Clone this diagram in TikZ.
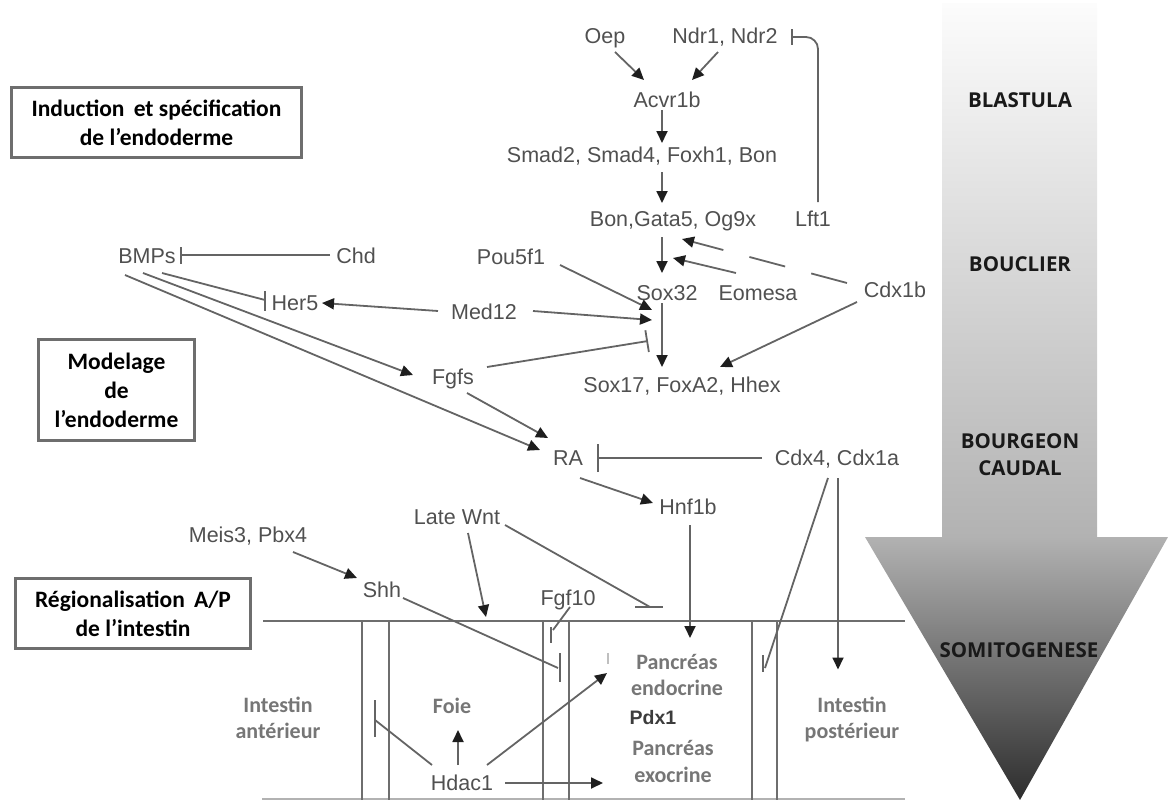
\documentclass[tikz,border=0pt]{standalone}
\usepackage{fontspec}
\setmainfont{Liberation Sans}
\newfontfamily\cbfont{Carlito}
\newfontfamily\osfont{Open Sans}
\usetikzlibrary{arrows.meta,calc}
\definecolor{genec}{RGB}{80,80,80}
\definecolor{linec}{RGB}{100,100,100}
\definecolor{tipc}{RGB}{30,30,30}
\definecolor{tisc}{RGB}{118,118,118}
\definecolor{boxc}{RGB}{110,110,110}
\definecolor{pdxc}{RGB}{60,60,60}
\definecolor{shafttop}{RGB}{252,252,252}
\definecolor{shaftbot}{RGB}{178,178,178}
\definecolor{headbot}{RGB}{45,45,45}
\definecolor{wallc}{RGB}{110,110,110}
\tikzset{
  gene/.style={font=\fontsize{21.5}{24}\selectfont, text=genec, inner sep=1pt, text height=15.5pt, text depth=0pt},
  tis/.style={font=\cbfont\bfseries\fontsize{22}{26.5}\selectfont, text=tisc, align=center, inner sep=1pt},
  ttl/.style={draw=boxc, line width=2.6pt, font=\cbfont\bfseries\fontsize{23.5}{29}\selectfont, align=center, inner sep=0pt},
  stage/.style={font=\osfont\bfseries\fontsize{20.5}{27}\selectfont, text=black!90, align=center, inner sep=1pt},
  con/.style={draw=linec, line width=1.8pt},
  act/.style={con, -{Triangle[length=12pt,width=11pt,color=tipc]}},
  inh/.style={con, -{Bar[width=#1,line width=1.8pt,color=linec]}},
  inh/.default=18pt,
  wall/.style={draw=wallc, line width=1.8pt},
}
\begin{document}
\begin{tikzpicture}[x=1pt,y=-1pt]
\useasboundingbox (0,0) rectangle (1168,800);
% big gradient arrow
\shade[top color=shafttop, bottom color=shaftbot] (942,4) rectangle (1097,537.5);
\shade[top color=shaftbot, bottom color=headbot] (865,537) -- (1168,537) -- (1020,800) -- cycle;
\node[stage] (blastula) at (1020,100) {BLASTULA};
\node[stage] (bouclier) at (1020,264) {BOUCLIER};
\node[stage] (bourgeon) at (1020,455) {BOURGEON\\CAUDAL};
\node[stage] (somito) at (1019,650) {SOMITOGENESE};

% title boxes
\node[ttl, minimum width=290pt, minimum height=70pt] (t1) at (156.5,122.5) {Induction \,et spécification\\de l’endoderme};
\node[ttl, minimum width=156pt, minimum height=101pt] (t2) at (116.5,390) {Modelage\\de\\l’endoderme};
\node[ttl, minimum width=235pt, minimum height=70pt] (t3) at (133,613.5) {Régionalisation \,A/P\\de l’intestin};

% intestine structure
\draw[wall] (263,621) -- (905,621);
\draw[wall, draw=black!30] (262,799) -- (905,799);
\foreach \xx in {362,389,543,569,752,777} {\draw[wall] (\xx,621) -- (\xx,800);}

% gene nodes
\node[gene] (Oep) at (605,36) {Oep};
\node[gene] (Ndr) at (725,36) {Ndr1, Ndr2};
\node[gene] (Acvr) at (667,100) {Acvr1b};
\node[gene] (Smad) at (642,155) {Smad2, Smad4, Foxh1, Bon};
\node[gene] (Bon) at (673,219) {Bon,Gata5, Og9x};
\node[gene] (Lft) at (813,219) {Lft1};
\node[gene] (BMPs) at (147,256) {BMPs};
\node[gene] (Chd) at (356,256) {Chd};
\node[gene] (Pou) at (511,257) {Pou5f1};
\node[gene] (Sox32) at (667,293) {Sox32};
\node[gene] (Eom) at (758,293) {Eomesa};
\node[gene] (Cdxb) at (895,290) {Cdx1b};
\node[gene] (Her5) at (295,303) {Her5};
\node[gene] (Med12) at (484,312) {Med12};
\node[gene] (Fgfs) at (453,377) {Fgfs};
\node[gene] (Sox17) at (682,385) {Sox17, FoxA2, Hhex};
\node[gene] (RA) at (568,458) {RA};
\node[gene] (Cdx4) at (837,458) {Cdx4, Cdx1a};
\node[gene] (Hnf) at (688,507) {Hnf1b};
\node[gene] (Wnt) at (457,517) {Late Wnt};
\node[gene] (Meis) at (248,535) {Meis3, Pbx4};
\node[gene] (Shh) at (382,590) {Shh};
\node[gene] (Fgf10) at (568,598) {Fgf10};
\node[gene] (Hdac) at (462,783) {Hdac1};

% tissue nodes
\node[tis] (Endo) at (677,675) {Pancréas\\endocrine};
\node[font=\bfseries\fontsize{19.5}{22}\selectfont, text=pdxc, inner sep=1pt] (Pdx1) at (653,718) {Pdx1};
\node[tis] (Exo) at (673,761.5) {Pancréas\\exocrine};
\node[tis] (Post) at (852,719.5) {Intestin\\postérieur};
\node[tis] (Ant) at (278,718) {Intestin\\antérieur};
\node[tis] (Foie) at (452,706) {Foie};

% named free ends
\coordinate (wntin) at (486,617);
\coordinate (lw) at (650,607);
\coordinate (shhbar) at (558,668);
\coordinate (fgfend) at (553,630);
\coordinate (hdbar) at (375,720);
\coordinate (cdxbar) at (765,668);
\coordinate (herbar) at (265,300);

% connectors
\draw[act] ($(Oep)+(10,16)$) -- ($(Acvr)+(-23,-20)$);
\draw[act] ($(Ndr)+(-7,16)$) -- ($(Acvr)+(25,-20)$);
\draw[inh=16pt, rounded corners=12pt] ($(Lft)+(5,-17)$) |- ($(Ndr)+(66,1)$);
\draw[act] ($(Acvr)+(-5,10)$) -- ($(Smad)+(20,-12)$);
\draw[act] ($(Smad)+(20,17)$) -- ($(Bon)+(-11,-16)$);
\draw[act] ($(Bon)+(-11,18)$) -- ($(Sox32)+(-5,-20)$);
\draw[act] ($(Eom)+(-22,-20)$) -- ($(Bon)+(0,39)$);
\draw[act, dash pattern=on 37pt off 27pt] ($(Cdxb)+(-48,-7)$) -- ($(Bon)+(9,20)$);
\draw[act] ($(Pou)+(49,8)$) -- ($(Sox32)+(-15,17)$);
\draw[act] ($(Med12)+(49,-1)$) -- ($(Sox32)+(-15,27)$);
\draw[act] ($(Sox32)+(-5,10)$) -- ($(Sox17)+(-20,-18)$);
\draw[inh=22pt] ($(Fgfs)+(34,-10)$) -- ($(Sox32)+(-19,48)$);
\draw[act] ($(Cdxb)+(-38,12)$) -- ($(Sox17)+(38,-18)$);
\draw[inh=17pt] ($(Chd)+(-26,-1)$) -- ($(BMPs)+(33,-1)$);
\draw[con] ($(BMPs)+(15,17)$) -- (herbar);
\draw[con] ($(herbar)+(0,-9)$) -- ($(herbar)+(0,11)$);
\draw[act] ($(Med12)+(-46,-1)$) -- ($(Her5)+(27,0)$);
\draw[act] ($(BMPs)+(-4,17)$) -- ($(Fgfs)+(-40,-2)$);
\draw[act] ($(BMPs)+(-22,19)$) -- ($(RA)+(-28,-8)$);
\draw[act] ($(Fgfs)+(14,16)$) -- ($(RA)+(-20,-20)$);
\draw[inh=28pt] ($(Cdx4)+(-75,0)$) -- ($(RA)+(29,0)$);
\draw[act] ($(RA)+(12,20)$) -- ($(Hnf)+(-35,-4)$);
\draw[act] ($(Hnf)+(2,18)$) -- ($(Endo)+(13,-37)$);
\draw[act] ($(Cdx4)+(1,20)$) -- ($(Post)+(-14,-50)$);
\draw[con] ($(Cdx4)+(-9,20)$) -- (cdxbar);
\draw[con] ($(cdxbar)+(-2,-13)$) -- ($(cdxbar)+(-2,4)$);
\draw[act] ($(Wnt)+(11,16)$) -- (wntin);
\draw[con] ($(Wnt)+(48,8)$) -- (lw);
\draw[con] ($(lw)+(-15,0)$) -- ($(lw)+(13,0)$);
\draw[act] ($(Meis)+(45,17)$) -- ($(Shh)+(-25,-12)$);
\draw[con] ($(Shh)+(21,8)$) -- (shhbar);
\draw[con] ($(shhbar)+(2,-15)$) -- ($(shhbar)+(2,14)$);
\draw[con] ($(Fgf10)+(2,9)$) -- (fgfend);
\draw[con] ($(fgfend)+(-2,-3)$) -- ($(fgfend)+(-2,13)$);
\draw[act] ($(Hdac)+(-4,-18)$) -- ($(Foie)+(6,24)$);
\draw[con] ($(Hdac)+(-30,-18)$) -- (hdbar);
\draw[con] ($(hdbar)+(0,-20)$) -- ($(hdbar)+(0,17)$);
\draw[act] ($(Hdac)+(25,-18)$) -- ($(Endo)+(-70,-2)$);
\draw[act] ($(Hdac)+(43,0)$) -- ($(Exo)+(-70,21.5)$);
\draw[con, draw=black!25] ($(Endo)+(-69,-22)$) -- ($(Endo)+(-69,-11)$);
\end{tikzpicture}
\end{document}
